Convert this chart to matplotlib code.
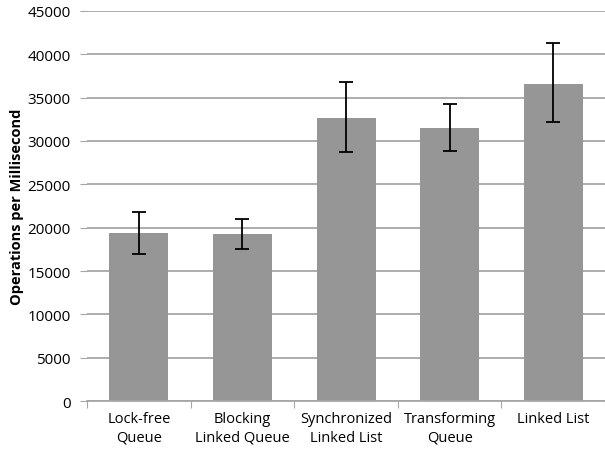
import matplotlib.pyplot as plt
import numpy as np

# data
categories = ["Lock-free\nQueue", "Blocking\nLinked Queue", "Synchronized\nLinked List",
              "Transforming\nQueue", "Linked List"]
means = [19400, 19250, 32700, 31500, 36600]
err_low = [17000, 17500, 28700, 28850, 32200]
err_high = [21800, 21000, 36850, 34250, 41350]
y_ticks = list(range(0, 45001, 5000))

plt.rcParams['font.family'] = ['Open Sans', 'DejaVu Sans']

fig = plt.figure(figsize=(6.05, 4.56), dpi=100)
ax = fig.add_axes([0.144, 0.118, 0.856, 0.856])

x = np.arange(len(categories))
lower = np.array(means) - np.array(err_low)
upper = np.array(err_high) - np.array(means)

ax.bar(x, means, width=0.57, color="#969696", zorder=2)
ax.errorbar(x, means, yerr=[lower, upper], fmt="none", ecolor="black",
            elinewidth=1.3, capsize=5, capthick=1.3, zorder=3)

ax.set_ylim(0, 45000)
ax.set_xlim(-0.5, len(categories) - 0.5)
ax.set_yticks(y_ticks)
ax.set_yticklabels([str(v) for v in y_ticks], fontsize=11)
ax.yaxis.grid(True, color="#a6a6a6", linewidth=1.3, zorder=0)
ax.set_axisbelow(True)

# category boundaries as ticks, labels at centres
ax.set_xticks(np.arange(-0.5, len(categories), 1.0))
ax.set_xticklabels([])
ax.set_xticks(x, minor=True)
ax.set_xticklabels(categories, minor=True, fontsize=10.5, linespacing=1.35)
ax.tick_params(axis="x", which="major", length=5, color="#a6a6a6")
ax.tick_params(axis="x", which="minor", length=0, pad=7)
ax.tick_params(axis="y", length=5, color="#a6a6a6", pad=7)

for side in ["top", "right", "left"]:
    ax.spines[side].set_visible(False)
ax.spines["bottom"].set_color("#a6a6a6")
ax.spines["bottom"].set_linewidth(1.3)

ax.set_ylabel("Operations per Millisecond", fontsize=10.5, fontweight="bold", labelpad=2)

plt.savefig("out.png", dpi=100)
